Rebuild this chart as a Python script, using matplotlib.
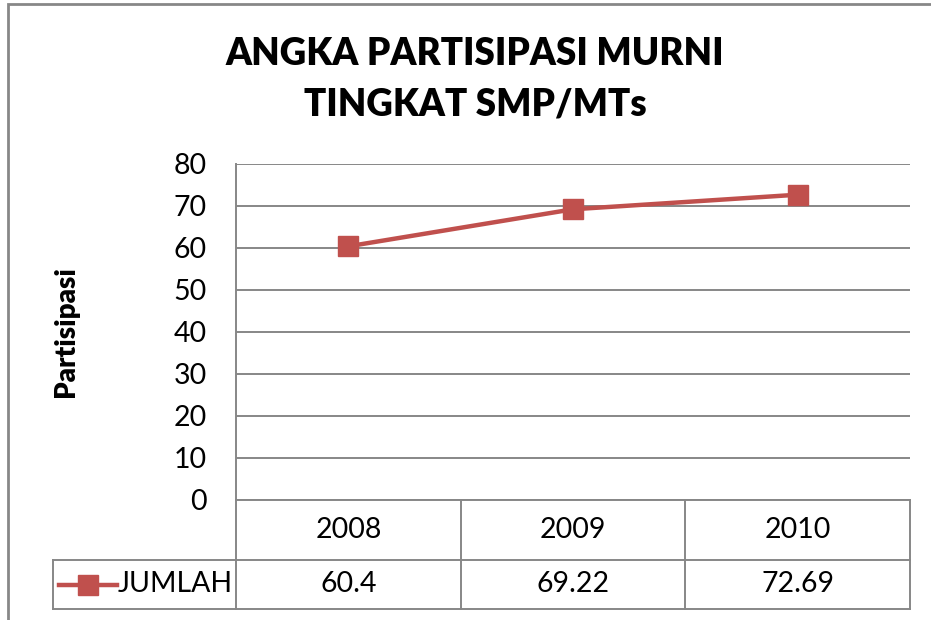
import matplotlib
matplotlib.use("Agg")
import matplotlib.pyplot as plt
from matplotlib.patches import Rectangle
from matplotlib.lines import Line2D

years = ["2008", "2009", "2010"]
values = [60.4, 69.22, 72.69]
value_labels = ["60.4", "69.22", "72.69"]
series_name = "JUMLAH"
title = "ANGKA PARTISIPASI MURNI\nTINGKAT SMP/MTs"
ylabel = "Partisipasi"
yticks = [0, 10, 20, 30, 40, 50, 60, 70, 80]

plt.rcParams['font.family'] = ['Lato', 'DejaVu Sans']
W, H = 931, 620
fig = plt.figure(figsize=(W/100, H/100), dpi=100)
fig.patch.set_facecolor('white')

grid_c = '#878787'
red = '#C0504D'
fs = 20.5

# outer border
fig.add_artist(Rectangle((8/W, -0.1), 1.2, (1 - 4/H) + 0.1, transform=fig.transFigure,
                         fill=False, edgecolor=grid_c, linewidth=2))

L, R, T, B = 236, 910, 164, 500
ax = fig.add_axes([L/W, 1 - B/H, (R-L)/W, (B-T)/H])
x = list(range(len(years)))
ax.plot(x, values, color=red, linewidth=3.2, marker='s', markersize=14,
        markerfacecolor=red, markeredgecolor=red, zorder=3, clip_on=False)
ax.set_xlim(-0.5, len(years) - 0.5)
ax.set_ylim(0, 80)
ax.set_yticks(yticks)
ax.set_xticks([])
ax.grid(axis='y', color=grid_c, linewidth=1.4)
ax.set_axisbelow(True)
for s in ['top', 'right']:
    ax.spines[s].set_visible(False)
for s in ['left', 'bottom']:
    ax.spines[s].set_color(grid_c)
    ax.spines[s].set_linewidth(1.4)
ax.tick_params(axis='y', length=0, pad=21, labelsize=fs, labelcolor='black')
ax.set_ylabel(ylabel, fontsize=20, fontweight='heavy', labelpad=0)
ax.yaxis.set_label_coords((79 - L)/(R - L), 0.5)

fig.text(475/W, 1 - 79/H, title, ha='center', va='center', fontsize=26.5,
         fontweight='heavy', linespacing=1.6)

# data table below axes
ph = B - T
y1 = -(560 - B)/ph
y2 = -(609 - B)/ph
xl = (53 - L)/(R - L)
tr = ax.get_xaxis_transform()
lw = 1.4
ax.add_line(Line2D([xl, 1], [y1, y1], transform=ax.transAxes, color=grid_c, lw=lw, clip_on=False))
ax.add_line(Line2D([xl, 1], [y2, y2], transform=ax.transAxes, color=grid_c, lw=lw, clip_on=False))
ax.add_line(Line2D([xl, xl], [y1, y2], transform=ax.transAxes, color=grid_c, lw=lw, clip_on=False))
for b in [i - 0.5 for i in range(len(years) + 1)]:
    ax.add_line(Line2D([b, b], [0, y2], transform=tr, color=grid_c, lw=lw, clip_on=False))
for i, (yr, vl) in enumerate(zip(years, value_labels)):
    ax.text(i, y1/2, yr, transform=tr, ha='center', va='center', fontsize=fs)
    ax.text(i, (y1 + y2)/2, vl, transform=tr, ha='center', va='center', fontsize=fs)
# legend key
ym = (y1 + y2)/2
kx0 = (59 - L)/(R - L)
kx1 = (117 - L)/(R - L)
ax.add_line(Line2D([kx0, kx1], [ym, ym], transform=ax.transAxes, color=red, lw=3.2, clip_on=False))
ax.add_line(Line2D([(kx0 + kx1)/2], [ym], transform=ax.transAxes, color=red, marker='s',
                   markersize=14, clip_on=False))
ax.text((118 - L)/(R - L), ym, series_name, transform=ax.transAxes, ha='left', va='center', fontsize=fs)

fig.savefig("out.png", dpi=100)
